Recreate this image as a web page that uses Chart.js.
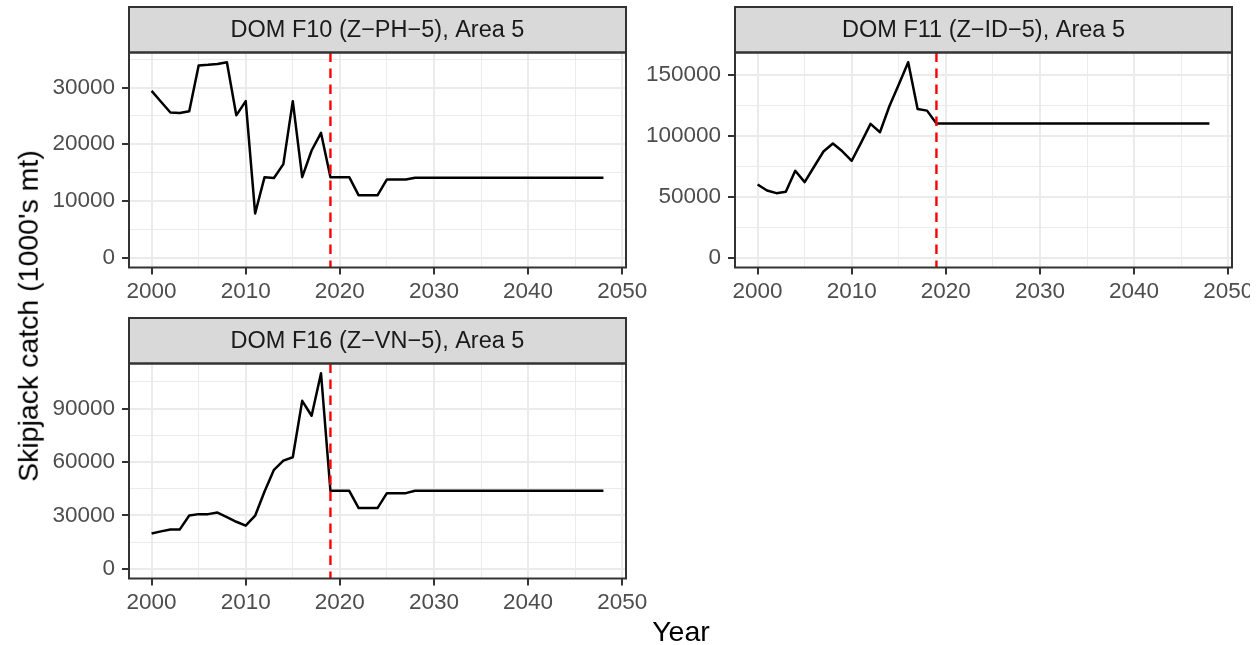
<!DOCTYPE html>
<html lang="en">
<head>
    <meta charset="UTF-8">
    <title>Skipjack catch by fishery</title>
    <script src="https://cdn.jsdelivr.net/npm/chart.js@4.4.1/dist/chart.umd.min.js"></script>
    <style>
        body {
            margin: 0;
            background: #fff;
            font-family: "Liberation Sans", Arial, sans-serif;
        }
        .figure {
            position: relative;
            width: 1260px;
            height: 645px;
            overflow: hidden;
        }
        .figure canvas {
            position: absolute;
        }
        .ytitle {
            position: absolute;
            left: 28px;
            top: 316px;
            transform: translate(-50%, -50%) rotate(-90deg);
            white-space: nowrap;
            font-size: 28.5px;
            color: #000;
            line-height: 1;
        }
        .xtitle {
            position: absolute;
            left: 681px;
            top: 631px;
            transform: translate(-50%, -50%);
            white-space: nowrap;
            font-size: 28.5px;
            color: #000;
            line-height: 1;
        }
    </style>
</head>
<body>
    <div class="figure">
        <canvas id="f11" width="610" height="310" style="left:640px;top:0"></canvas>
        <canvas id="f10" width="660" height="310" style="left:0;top:0"></canvas>
        <canvas id="f16" width="660" height="310" style="left:0;top:311px"></canvas>
        <div class="ytitle">Skipjack catch (1000's mt)</div>
        <div class="xtitle">Year</div>
    </div>

    <script>
        const years = [
            2000, 2001, 2002, 2003, 2004, 2005, 2006, 2007, 2008, 2009,
            2010, 2011, 2012, 2013, 2014, 2015, 2016, 2017, 2018, 2019,
            2020, 2021, 2022, 2023, 2024, 2025, 2026, 2027, 2028, 2029,
            2030, 2031, 2032, 2033, 2034, 2035, 2036, 2037, 2038, 2039,
            2040, 2041, 2042, 2043, 2044, 2045, 2046, 2047, 2048
        ];

        // first projection year (red dashed line)
        const projStart = 2019;

        const catchF10 = [
            29400, 27500, 25600, 25500, 25800, 33900, 34000, 34150, 34450, 25100,
            27600, 7800, 14200, 14050, 16500, 27600, 14200, 18900, 22000, 14200,
            14200, 14200, 11000, 11000, 11000, 13800, 13800, 13800, 14100, 14100,
            14100, 14100, 14100, 14100, 14100, 14100, 14100, 14100, 14100, 14100,
            14100, 14100, 14100, 14100, 14100, 14100, 14100, 14100, 14100
        ];
        const catchF11 = [
            60000, 55100, 52900, 54000, 71200, 61900, 74500, 87000, 93500, 87200,
            79400, 94300, 109600, 102800, 124100, 141800, 160100, 121900, 120500, 109900,
            109900, 109900, 109900, 109900, 109900, 109900, 109900, 109900, 109900, 109900,
            109900, 109900, 109900, 109900, 109900, 109900, 109900, 109900, 109900, 109900,
            109900, 109900, 109900, 109900, 109900, 109900, 109900, 109900, 109900
        ];
        const catchF16 = [
            19800, 21000, 22100, 22100, 29900, 30700, 30700, 31600, 29000, 26400,
            24200, 29800, 43400, 55600, 60800, 62700, 94400, 86000, 109900, 43800,
            43800, 43800, 34100, 34100, 34100, 42500, 42500, 42500, 43800, 43800,
            43800, 43800, 43800, 43800, 43800, 43800, 43800, 43800, 43800, 43800,
            43800, 43800, 43800, 43800, 43800, 43800, 43800, 43800, 43800
        ];

        // x ticks: every 5 years, labels on the decades
        const xTicks = [2000, 2005, 2010, 2015, 2020, 2025, 2030, 2035, 2040, 2045, 2050];
        const xLabels = [2000, 2010, 2020, 2030, 2040, 2050];

        const yTicksF10 = [0, 5000, 10000, 15000, 20000, 25000, 30000, 35000];
        const yLabelsF10 = [0, 10000, 20000, 30000];
        const yTicksF11 = [0, 25000, 50000, 75000, 100000, 125000, 150000];
        const yLabelsF11 = [0, 50000, 100000, 150000];
        const yTicksF16 = [0, 15000, 30000, 45000, 60000, 75000, 90000, 105000];
        const yLabelsF16 = [0, 30000, 60000, 90000];

        const FONT = '"Liberation Sans", Arial, sans-serif';
        const GRID = '#EBEBEB';
        const DARK = '#333333';

        // grey strip on top of each panel, panel frame and the projection line
        const facetPlugin = {
            id: 'facet',
            afterDatasetsDraw(chart, args, opts) {
                const { ctx, chartArea: a, scales } = chart;
                const px = scales.x.getPixelForValue(opts.vline);
                ctx.save();
                ctx.strokeStyle = '#FF0000';
                ctx.lineWidth = 2.4;
                ctx.setLineDash([9.5, 6.5]);
                ctx.beginPath();
                ctx.moveTo(px, a.top);
                ctx.lineTo(px, a.bottom);
                ctx.stroke();
                ctx.restore();
            },
            afterDraw(chart, args, opts) {
                const { ctx, chartArea: a } = chart;
                const h = 45.5;
                ctx.save();
                ctx.fillStyle = '#D9D9D9';
                ctx.fillRect(a.left, a.top - h, a.right - a.left, h);
                ctx.strokeStyle = DARK;
                ctx.lineWidth = 2;
                ctx.strokeRect(a.left, a.top - h, a.right - a.left, h);
                ctx.strokeRect(a.left, a.top, a.right - a.left, a.bottom - a.top);
                ctx.fillStyle = '#1A1A1A';
                ctx.font = '23.5px ' + FONT;
                ctx.textAlign = 'center';
                ctx.textBaseline = 'middle';
                ctx.fillText(opts.label, (a.left + a.right) / 2, a.top - h / 2 + 1);
                ctx.restore();
            }
        };

        function makePanel(id, label, values, yTicks, yLabels, yWidth, padRight) {
            const yMax = Math.max(...values);
            const yPad = yMax * 0.05;
            const xPad = (years[years.length - 1] - years[0]) * 0.05;

            return new Chart(document.getElementById(id), {
                type: 'line',
                data: {
                    datasets: [{
                        data: years.map((yr, i) => ({ x: yr, y: values[i] })),
                        borderColor: '#000000',
                        borderWidth: 2.5,
                        borderJoinStyle: 'round',
                        pointRadius: 0,
                        tension: 0,
                        fill: false
                    }]
                },
                options: {
                    responsive: false,
                    animation: false,
                    events: [],
                    layout: { padding: { top: 52.5, right: padRight, left: 0, bottom: 0 } },
                    plugins: {
                        legend: { display: false },
                        tooltip: { enabled: false },
                        facet: { label: label, vline: projStart }
                    },
                    scales: {
                        x: {
                            type: 'linear',
                            min: years[0] - xPad,
                            max: years[years.length - 1] + xPad,
                            afterBuildTicks: s => { s.ticks = xTicks.map(v => ({ value: v })); },
                            afterFit: s => { s.height = 42.5; s.paddingLeft = 0; s.paddingRight = 0; },
                            border: { display: false },
                            grid: {
                                color: GRID,
                                lineWidth: c => xLabels.includes(c.tick.value) ? 2 : 1,
                                tickColor: c => xLabels.includes(c.tick.value) ? DARK : 'rgba(0,0,0,0)',
                                tickWidth: 2,
                                tickLength: 7
                            },
                            ticks: {
                                autoSkip: false,
                                maxRotation: 0,
                                padding: 4,
                                color: '#4D4D4D',
                                font: { family: FONT, size: 22.5 },
                                callback: v => xLabels.includes(v) ? String(v) : ''
                            }
                        },
                        y: {
                            type: 'linear',
                            min: -yPad,
                            max: yMax + yPad,
                            afterBuildTicks: s => { s.ticks = yTicks.map(v => ({ value: v })); },
                            afterFit: s => { s.width = yWidth; s.paddingTop = 0; s.paddingBottom = 0; },
                            border: { display: false },
                            grid: {
                                color: GRID,
                                lineWidth: c => yLabels.includes(c.tick.value) ? 2 : 1,
                                tickColor: c => yLabels.includes(c.tick.value) ? DARK : 'rgba(0,0,0,0)',
                                tickWidth: 2,
                                tickLength: 7
                            },
                            ticks: {
                                autoSkip: false,
                                padding: 7,
                                color: '#4D4D4D',
                                font: { family: FONT, size: 22.5 },
                                callback: v => yLabels.includes(v) ? String(v) : ''
                            }
                        }
                    }
                },
                plugins: [facetPlugin]
            });
        }

        makePanel('f10', 'DOM F10 (Z\u2212PH\u22125), Area 5', catchF10, yTicksF10, yLabelsF10, 129, 34);
        makePanel('f11', 'DOM F11 (Z\u2212ID\u22125), Area 5', catchF11, yTicksF11, yLabelsF11, 95, 18);
        makePanel('f16', 'DOM F16 (Z\u2212VN\u22125), Area 5', catchF16, yTicksF16, yLabelsF16, 129, 34);
    </script>
</body>
</html>
